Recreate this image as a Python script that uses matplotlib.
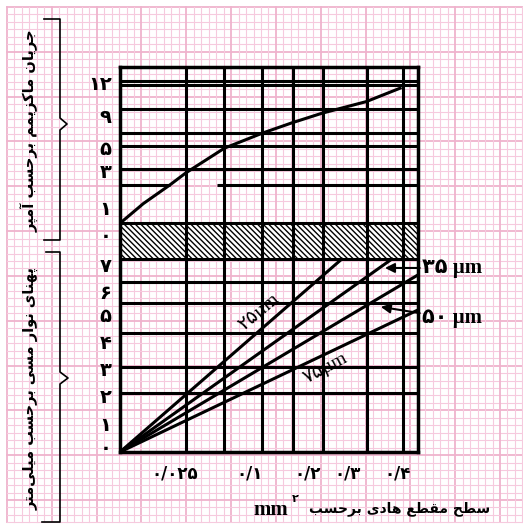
import numpy as np
import matplotlib
matplotlib.use('Agg')
import matplotlib.pyplot as plt

# ---- data (box units: 0..100 both ways, y up) ----
vlines_x = [22.2, 35.0, 47.8, 57.9, 68.0, 82.8, 94.9]
hlines_y = [96.4, 95.3, 89.1, 82.9, 79.6, 73.4, 44.2, 38.6, 31.0, 22.2, 15.2]
partial_y = 69.4
partial_segs = [(0, 16.8), (32.6, 100)]
band = (50.1, 59.4)   # hatched band (bottom, top)

# max current curve
curve_x = [0, 7.8, 16.8, 22.1, 35.0, 47.7, 57.7, 67.8, 82.6, 94.0]
curve_y = [59.4, 64.5, 69.4, 72.5, 78.9, 82.8, 85.5, 88.0, 91.0, 94.5]

# strip width lines (thickness in um): end point of each straight line
thick_um = ['۲۵', '۳۵', '۵۰', '۷۵']
end_x = [74.4, 91.2, 100.0, 100.0]
end_y = [50.1, 50.1, 46.0, 36.9]

ytick_pos = [96.1, 87.5, 79.2, 73.0, 63.4, 56.4,
             48.6, 41.6, 35.6, 28.6, 21.8, 14.8, 7.5, 1.4]
ytick_lab = ['۱۲', '۹', '۵', '۳', '۱', '۰',
             '۷', '۶', '۵', '۴', '۳', '۲', '۱', '۰']
xtick_pos = [18.5, 43.6, 63.1, 76.2, 93.3]
xtick_lab = ['۰/۰۲۵', '۰/۱', '۰/۲', '۰/۳', '۰/۴']

title_top = 'جریان ماکزیمم برحسب آمپر'
title_low = 'پهنای نوار مسی برحسب میلی\u200cمتر'
title_x = 'سطح مقطع هادی برحسب'

# ---- minimal persian shaping (matplotlib has no arabic shaping) ----
FORMS = {
    'ا': ('\uFE8D', '\uFE8E', None, None),
    'آ': ('\uFE81', '\uFE82', None, None),
    'ب': ('\uFE8F', '\uFE90', '\uFE91', '\uFE92'),
    'پ': ('\uFB56', '\uFB57', '\uFB58', '\uFB59'),
    'ت': ('\uFE95', '\uFE96', '\uFE97', '\uFE98'),
    'ج': ('\uFE9D', '\uFE9E', '\uFE9F', '\uFEA0'),
    'ح': ('\uFEA1', '\uFEA2', '\uFEA3', '\uFEA4'),
    'د': ('\uFEA9', '\uFEAA', None, None),
    'ر': ('\uFEAD', '\uFEAE', None, None),
    'ز': ('\uFEAF', '\uFEB0', None, None),
    'س': ('\uFEB1', '\uFEB2', '\uFEB3', '\uFEB4'),
    'ط': ('\uFEC1', '\uFEC2', '\uFEC3', '\uFEC4'),
    'ع': ('\uFEC9', '\uFECA', '\uFECB', '\uFECC'),
    'ق': ('\uFED5', '\uFED6', '\uFED7', '\uFED8'),
    'ک': ('\uFB8E', '\uFB8F', '\uFEDB', '\uFEDC'),
    'ل': ('\uFEDD', '\uFEDE', '\uFEDF', '\uFEE0'),
    'م': ('\uFEE1', '\uFEE2', '\uFEE3', '\uFEE4'),
    'ن': ('\uFEE5', '\uFEE6', '\uFEE7', '\uFEE8'),
    'ه': ('\uFEE9', '\uFEEA', '\uFEEB', '\uFEEC'),
    'و': ('\uFEED', '\uFEEE', None, None),
    'ی': ('\uFEEF', '\uFEF0', '\uFEF3', '\uFEF4'),
}

def shape(s):
    out = []
    for i, ch in enumerate(s):
        if ch not in FORMS:
            out.append(ch)
            continue
        f = FORMS[ch]
        prev = s[i-1] if i > 0 else ''
        nxt = s[i+1] if i < len(s)-1 else ''
        jp = prev in FORMS and FORMS[prev][2] is not None
        jn = f[2] is not None and nxt in FORMS
        if jp and jn:
            out.append(f[3])
        elif jp:
            out.append(f[1])
        elif jn:
            out.append(f[2])
        else:
            out.append(f[0])
    return ''.join(out).replace('\u200c', '')[::-1]

plt.rcParams['font.family'] = ['DejaVu Sans']
plt.rcParams['hatch.linewidth'] = 1.0
LW = 2.2

fig = plt.figure(figsize=(5.23, 5.26), dpi=100)

# graph paper background
bg = fig.add_axes([0, 0, 1, 1])
bg.set_xlim(0, 523)
bg.set_ylim(526, 0)
bg.axis('off')
paper = 7 + 7.47 * np.arange(70)
for i, v in enumerate(paper):
    heavy = (i % 6 == 0)
    c = '#efb3cd' if heavy else '#f6cade'
    w = 1.3 if heavy else 0.8
    bg.plot([v, v], [paper[0], paper[-1]], color=c, lw=w, zorder=0)
    bg.plot([paper[0], paper[-1]], [v, v], color=c, lw=w, zorder=0)

# braces
bg.plot([44, 60, 60, 67, 60, 60, 44], [19, 19, 118, 124, 130, 240, 240], color='black', lw=1.2)
bg.plot([46, 60, 60, 68, 60, 60, 42], [252, 252, 372, 378, 384, 522, 522], color='black', lw=1.2)

bg.text(31, 131, shape(title_top), rotation=90, ha='center', va='center',
        fontsize=10.5, fontweight='bold')
bg.text(31, 389, shape(title_low), rotation=90, ha='center', va='center',
        fontsize=10.5, fontweight='bold')
bg.text(490, 509, shape(title_x), ha='right', va='center', fontsize=10, fontweight='bold')
bg.text(288, 510, 'mm', ha='right', va='center', fontsize=15, fontweight='bold',
        family=['Liberation Serif', 'DejaVu Sans'])
bg.text(295, 499, '۲', ha='center', va='center', fontsize=8, fontweight='bold')

# main chart box
ax = fig.add_axes([120/523, 74/526, 298/523, 385/526])
ax.set_facecolor('none')
ax.set_xlim(0, 100)
ax.set_ylim(0, 100)
for sp in ax.spines.values():
    sp.set_linewidth(LW + 0.3)

ax.axhspan(band[0], band[1], facecolor='white', edgecolor='black', hatch='\\\\\\\\\\\\', lw=0, zorder=1)
ax.hlines(band, 0, 100, color='black', lw=LW, zorder=2)
ax.vlines(vlines_x, 0, 100, color='black', lw=LW, zorder=2)
ax.hlines(hlines_y, 0, 100, color='black', lw=LW, zorder=2)
for a, b in partial_segs:
    ax.hlines(partial_y, a, b, color='black', lw=LW, zorder=2)

ax.plot(curve_x, curve_y, color='black', lw=LW, zorder=3)
for ex, ey in zip(end_x, end_y):
    ax.plot([0, ex], [0, ey], color='black', lw=LW, zorder=3)

ax.set_yticks(ytick_pos, ytick_lab)
ax.set_xticks(xtick_pos, xtick_lab)
ax.tick_params(length=0, labelsize=14, pad=6)
ax.tick_params(axis='x', labelsize=12, pad=9)
for t in ax.get_yticklabels() + ax.get_xticklabels():
    t.set_fontweight('bold')

serif = ['Liberation Serif', 'DejaVu Sans']
ax.text(46.6, 36.4, thick_um[0] + 'µm', rotation=40, ha='center', va='center',
        fontsize=14, family=serif)
ax.text(68.8, 21.7, thick_um[3] + 'µm', rotation=28, ha='center', va='center',
        fontsize=14, family=serif)

ax.annotate(thick_um[1] + ' µm', xy=(88.9, 47.8), xytext=(101.5, 47.8),
            ha='left', va='center', fontsize=15, fontweight='bold', family=serif,
            annotation_clip=False,
            arrowprops=dict(arrowstyle='-|>', color='black', lw=1.5, mutation_scale=14,
                            shrinkA=0, shrinkB=0))
ax.annotate(thick_um[2] + ' µm', xy=(87.5, 37.7), xytext=(101.5, 34.7),
            ha='left', va='center', fontsize=15, fontweight='bold', family=serif,
            annotation_clip=False,
            arrowprops=dict(arrowstyle='-|>', color='black', lw=1.5, mutation_scale=14,
                            shrinkA=0, shrinkB=0))

fig.savefig('out.png', dpi=100, facecolor='white')
